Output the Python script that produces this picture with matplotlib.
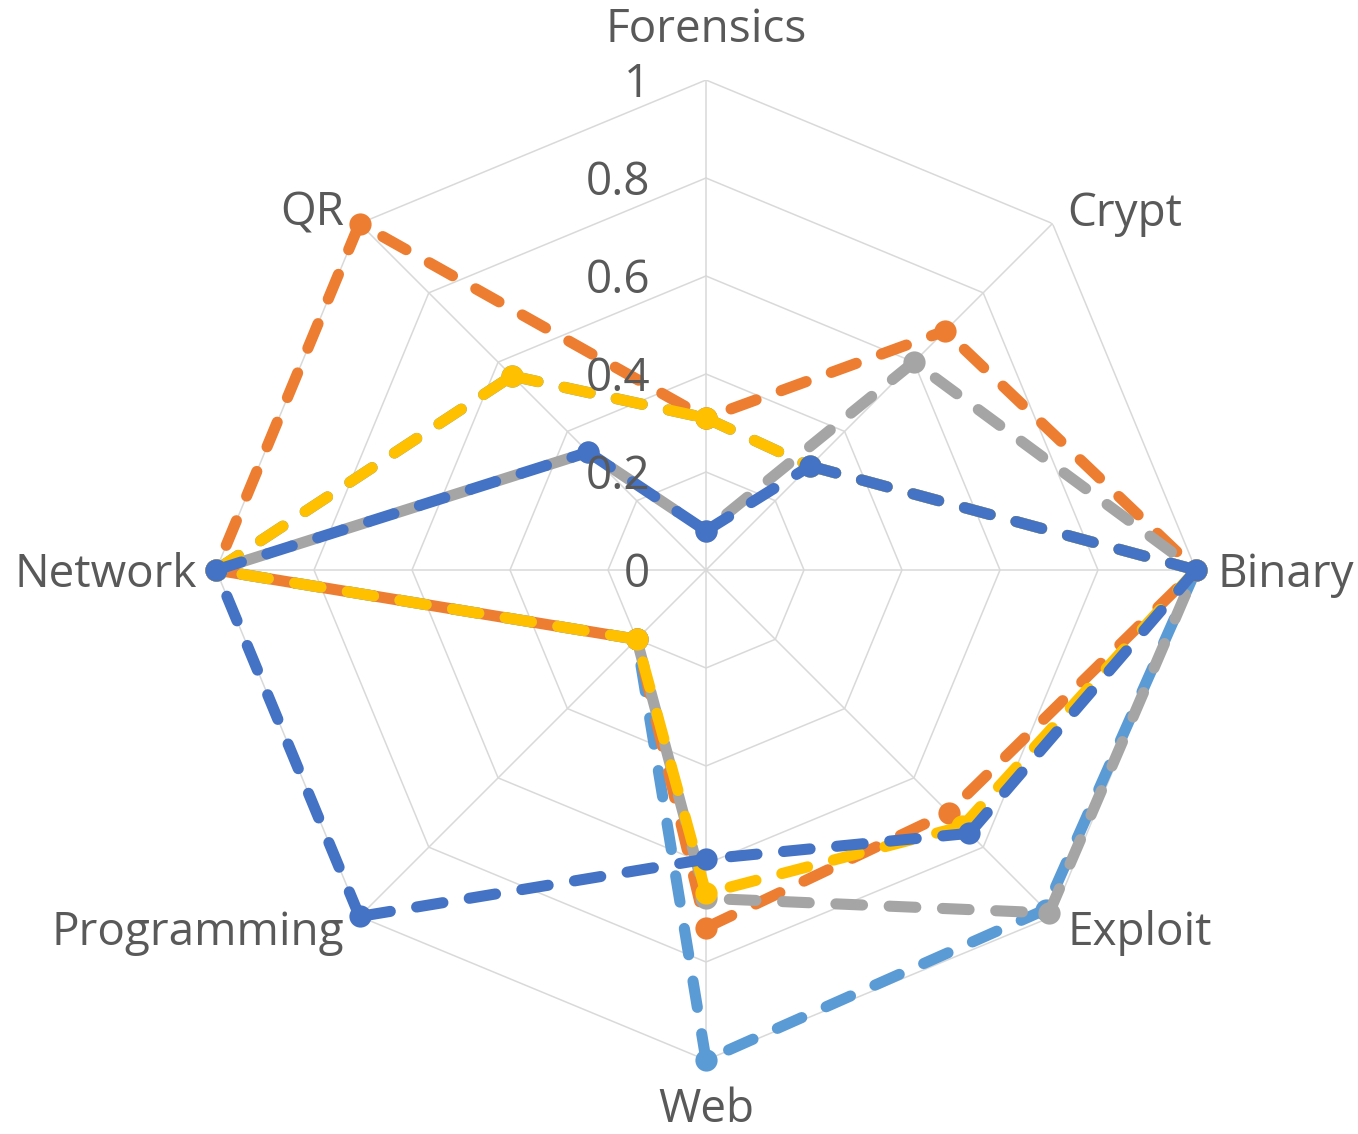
import numpy as np
import matplotlib
matplotlib.use("Agg")
import matplotlib.pyplot as plt

categories = ['Forensics', 'Crypt', 'Binary', 'Exploit', 'Web', 'Programming', 'Network', 'QR']
tick_values = [0, 0.2, 0.4, 0.6, 0.8, 1.0]
tick_labels = ['0', '0.2', '0.4', '0.6', '0.8', '1']

series1 = [0.08, 0.30, 1.0, 0.76, 0.59, 1.0, 1.0, 0.34]   # dark blue
series2 = [0.31, 0.69, 1.0, 0.70, 0.73, 0.20, 1.0, 1.0]   # orange
series3 = [0.08, 0.60, 1.0, 0.99, 0.67, 0.20, 1.0, 0.34]  # gray
series4 = [0.31, 0.30, 1.0, 0.74, 0.66, 0.20, 1.0, 0.56]  # yellow
series5 = [0.31, 0.30, 1.0, 0.98, 1.0, 0.20, 1.0, 0.56]   # light blue

plt.rcParams['font.family'] = ['Open Sans', 'DejaVu Sans']
W, H = 1358, 1134
fig = plt.figure(figsize=(W / 100, H / 100), dpi=100)
cx, cy, R = 706, 570, 490
ax = fig.add_axes([(cx - R) / W, (H - cy - R) / H, 2 * R / W, 2 * R / H], projection='polar')
ax.set_theta_offset(np.pi / 2)
ax.set_theta_direction(-1)
ax.set_ylim(0, 1)
ax.grid(False)
ax.spines['polar'].set_visible(False)
ax.set_xticks([])
ax.set_yticks([])
ax.patch.set_alpha(0)

n = len(categories)
angles = np.arange(n) * 2 * np.pi / n
closed = np.concatenate([angles, angles[:1]])

grid_c = '#D9D9D9'
for r in tick_values[1:]:
    ax.plot(closed, [r] * (n + 1), color=grid_c, lw=1.1, zorder=1)
for a in angles:
    ax.plot([a, a], [0, 1], color=grid_c, lw=1.1, zorder=1)

DASH = (2.4, 2.4)
HALF = 2.4

def draw(vals, col, z, offset=0.0, seg_offsets=None):
    v = list(vals) + [vals[0]]
    for i in range(n):
        off = offset
        if seg_offsets and i in seg_offsets:
            off = seg_offsets[i]
        ax.plot(closed[i:i + 2], v[i:i + 2], color=col, lw=8, linestyle=(off, DASH),
                dash_capstyle='round', zorder=z, clip_on=False)
    ax.plot(angles, vals, linestyle='none', marker='o', markersize=16,
            markeredgewidth=0, color=col, zorder=z, clip_on=False)

draw(series5, '#5B9BD5', 2, 0.0)
draw(series2, '#ED7D31', 3, HALF)
draw(series3, '#A5A5A5', 4, HALF, {5: 0.0})
draw(series4, '#FFC000', 5, 0.0)
draw(series1, '#4472C4', 6, 0.0)

txt_c = '#595959'
fs = 33
# (x offset px, baseline offset px, ha) relative to the outer vertex
place = {
    'Forensics': (0, 38, 'center'),
    'Crypt': (15, -2, 'left'),
    'Binary': (21, -17, 'left'),
    'Exploit': (15, -29, 'left'),
    'Web': (0, -62, 'center'),
    'Programming': (-15, -29, 'right'),
    'Network': (-19, -17, 'right'),
    'QR': (-15, -2, 'right'),
}
for a, c in zip(angles, categories):
    dx, dy, ha = place[c]
    ax.annotate(c, xy=(a, 1.0), xytext=(dx, dy), textcoords='offset pixels',
                ha=ha, va='baseline', fontsize=fs, color=txt_c, annotation_clip=False)

for v, lab in zip(tick_values, tick_labels):
    ax.annotate(lab, xy=(0, v), xytext=(-56, -17), textcoords='offset pixels',
                ha='right', va='baseline', fontsize=fs, color=txt_c,
                annotation_clip=False, zorder=10)

fig.savefig('out.png', dpi=100)
